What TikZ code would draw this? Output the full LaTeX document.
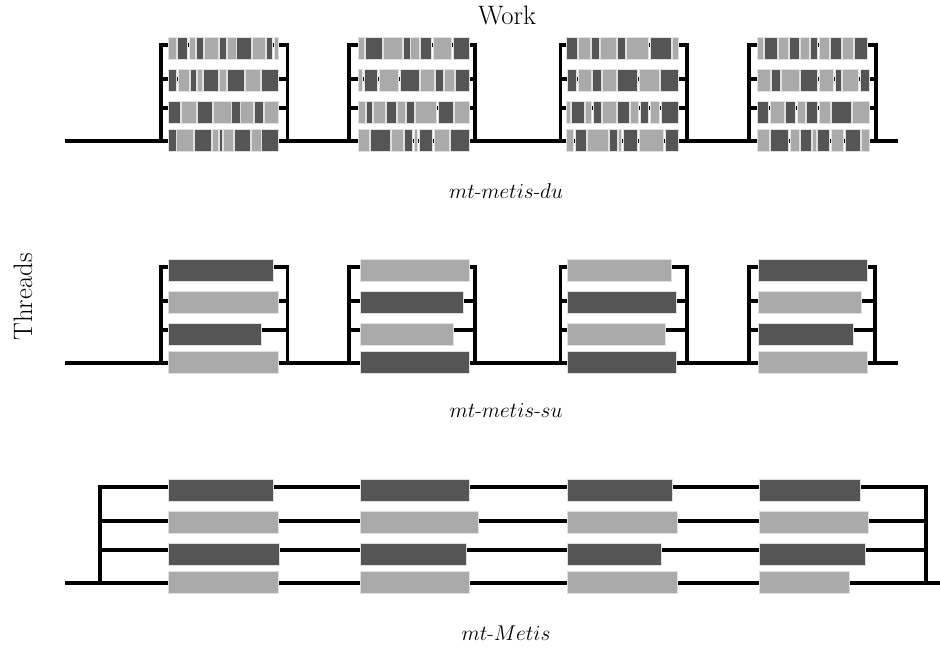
\documentclass[tikz,border=0pt]{standalone}
\usepackage{fix-cm}
\definecolor{dk}{RGB}{85,85,85}
\definecolor{lt}{RGB}{170,170,170}

% one row of a fine-grained work bar: x origin, top edge, list of start/end/colour (in thirds)
\newcommand{\workbar}[3]{%
  \foreach \a/\b/\c in {#3}{%
    \path[seg,fill=\c] ({#1+\a/3},#2) rectangle ({#1+\b/3},{#2+22});}}
% one solid work bar: start, end, top edge, colour
\newcommand{\solidbar}[4]{%
  \path[seg,fill=#4] (#1,#3) rectangle (#2,{#3+22});}
% bracket of four threads: left, right, baseline
\newcommand{\forkjoin}[3]{%
  \draw[thread] (#1,#3) -- (#1,{#3-96}) -- (#2,{#3-96}) -- (#2,#3);
  \draw[thread] (#1,{#3-33}) -- (#2,{#3-33});
  \draw[thread] (#1,{#3-62}) -- (#2,{#3-62});}

\begin{document}
\begin{tikzpicture}[x=0.75pt,y=-0.75pt,
  thread/.style={line width=2.3pt,line join=miter},
  seg/.style={draw=black!12,line width=0.3pt},
  title/.style={font=\fontsize{20}{24}\selectfont},
  caption/.style={font=\fontsize{16}{19}\selectfont}]
\useasboundingbox (0,0) rectangle (940,648);

% ---------------- mt-metis-du ----------------
\draw[thread] (65,141) -- (898,141);
\forkjoin{161}{287.5}{141}
\forkjoin{349}{475}{141}
\forkjoin{560.5}{687}{141}
\forkjoin{749}{876}{141}

\workbar{150}{37}{55/80/lt, 81/113/dk, 117/137/lt, 140/160/dk, 163/205/lt, 207/230/dk, 232/258/lt, 260/305/dk, 308/345/lt, 350/368/dk, 372/385/lt}
\workbar{150}{69}{55/80/dk, 85/117/lt, 120/140/dk, 143/158/lt, 160/205/dk, 207/228/lt, 232/283/dk, 287/330/lt, 335/385/dk}
\workbar{150}{101}{55/92/dk, 95/140/lt, 143/187/dk, 190/243/lt, 245/270/dk, 272/310/lt, 312/340/dk, 343/385/lt}
\workbar{150}{129}{55/78/dk, 80/130/lt, 133/185/dk, 188/205/lt, 208/218/dk, 220/250/lt, 253/302/dk, 305/333/lt, 335/385/dk}

\workbar{340}{37}{55/73/lt, 75/127/dk, 130/187/lt, 190/210/dk, 212/237/lt, 240/275/dk, 280/335/lt, 340/388/dk}
\workbar{340}{69}{55/68/lt, 72/113/dk, 117/175/lt, 180/237/dk, 240/283/lt, 287/310/dk, 313/343/lt, 345/388/dk}
\workbar{340}{101}{55/75/lt, 78/97/dk, 100/135/lt, 138/170/dk, 173/197/lt, 200/223/dk, 227/290/lt, 295/340/dk, 343/388/lt}
\workbar{340}{129}{55/88/lt, 92/150/dk, 155/190/lt, 193/218/dk, 222/233/lt, 237/278/dk, 282/328/lt, 332/388/dk}

\workbar{555}{37}{35/68/dk, 70/105/lt, 110/132/dk, 137/185/lt, 188/210/dk, 213/280/lt, 285/350/dk, 353/370/lt}
\workbar{555}{69}{38/65/dk, 70/108/lt, 113/138/dk, 143/185/lt, 188/248/dk, 252/313/lt, 317/370/dk}
\workbar{555}{101}{35/45/lt, 48/88/dk, 92/110/lt, 115/138/dk, 143/185/lt, 188/223/dk, 227/250/lt, 255/280/dk, 285/313/lt, 318/370/dk}
\workbar{555}{129}{35/55/lt, 60/95/dk, 98/160/lt, 163/188/dk, 190/200/lt, 205/248/dk, 252/325/lt, 330/370/dk}

\workbar{745}{37}{38/55/lt, 58/97/dk, 100/130/lt, 133/162/dk, 167/193/lt, 197/218/dk, 222/253/lt, 257/290/dk, 293/325/lt, 328/368/dk}
\workbar{745}{69}{38/75/lt, 78/105/dk, 110/163/lt, 167/218/dk, 222/265/lt, 270/288/dk, 293/340/lt, 345/372/dk}
\workbar{745}{101}{38/70/dk, 75/117/lt, 120/152/dk, 157/180/lt, 183/218/dk, 222/255/lt, 258/318/dk, 323/372/lt}
\workbar{745}{129}{38/72/lt, 77/130/dk, 135/163/lt, 167/200/dk, 203/213/lt, 217/253/dk, 258/295/lt, 300/345/dk, 348/372/lt}

\node[caption] (du) at (506,191) {$mt$-$metis$-$du$};

% ---------------- mt-metis-su ----------------
\draw[thread] (65,363) -- (898,363);
\forkjoin{161}{287.5}{363}
\forkjoin{349}{475}{363}
\forkjoin{560.5}{687}{363}
\forkjoin{749}{875}{363}

\solidbar{168}{273}{259}{dk} \solidbar{168}{278}{291}{lt}
\solidbar{168}{261}{323}{dk} \solidbar{168}{278}{351}{lt}
\solidbar{360}{469}{259}{lt} \solidbar{360}{463}{291}{dk}
\solidbar{360}{453}{323}{lt} \solidbar{360}{469}{351}{dk}
\solidbar{567}{671}{259}{lt} \solidbar{567}{676}{291}{dk}
\solidbar{567}{665}{323}{lt} \solidbar{567}{676}{351}{dk}
\solidbar{758}{867}{259}{dk} \solidbar{758}{861}{291}{lt}
\solidbar{758}{853}{323}{dk} \solidbar{758}{867}{351}{lt}

\node[caption] (su) at (506,411) {$mt$-$metis$-$su$};

% ---------------- mt-Metis ----------------
\draw[thread] (65,583) -- (940,583);
\forkjoin{100}{926}{583}

\solidbar{168}{273}{479}{dk} \solidbar{168}{278}{511}{lt}
\solidbar{168}{279}{543}{dk} \solidbar{168}{278}{571}{lt}
\solidbar{360}{469}{479}{dk} \solidbar{360}{478}{511}{lt}
\solidbar{360}{466}{543}{dk} \solidbar{360}{469}{571}{lt}
\solidbar{567}{672}{479}{dk} \solidbar{567}{677}{511}{lt}
\solidbar{567}{661}{543}{dk} \solidbar{567}{677}{571}{lt}
\solidbar{759}{860}{479}{dk} \solidbar{759}{868}{511}{lt}
\solidbar{759}{865}{543}{dk} \solidbar{759}{849}{571}{lt}

\node[caption] (metis) at (506,633) {$mt$-$Metis$};

% ---------------- axis labels ----------------
\node[title] (work) at (507,15) {Work};
\node[title,rotate=90] (threads) at (23,297) {Threads};
\end{tikzpicture}
\end{document}
